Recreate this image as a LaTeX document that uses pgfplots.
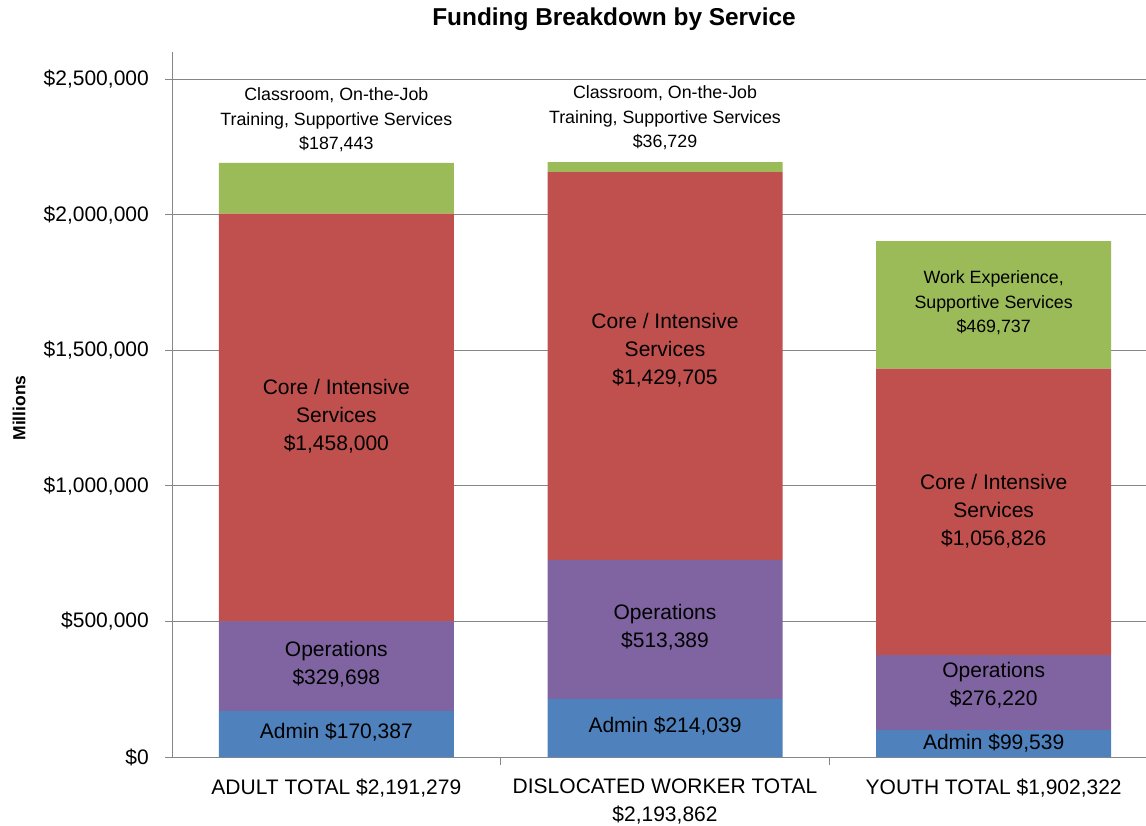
\documentclass[border=0pt]{standalone}
\usepackage{fontspec}
\setmainfont{Liberation Sans}
\usepackage{pgfplots}
\pgfplotsset{compat=1.18}
\definecolor{cAdmin}{HTML}{4F81BD}
\definecolor{cOps}{HTML}{8064A2}
\definecolor{cCore}{HTML}{C0504D}
\definecolor{cTrain}{HTML}{9BBB59}
\definecolor{axgray}{HTML}{868686}
\newcommand{\bigf}{\fontsize{21bp}{28bp}\selectfont}
\newcommand{\smlf}{\fontsize{17.8bp}{24.5bp}\selectfont}
\begin{document}
\begin{tikzpicture}
\path[use as bounding box] (0,0) rectangle (1146bp,-826bp);
\begin{scope}
\clip (0,0) rectangle (1146bp,-826bp);
\begin{axis}[
  at={(172bp,-757bp)}, anchor=south west,
  scale only axis, width=986bp, height=705bp,
  ybar stacked, bar width=235bp,
  xmin=-0.5, xmax=2.5, ymin=0, ymax=2600000,
  axis lines*=left,
  axis line style={axgray, line width=1bp},
  ymajorgrids, grid style={axgray, line width=1bp},
  ytick={0,500000,1000000,1500000,2000000,2500000},
  yticklabels={{\$0},{\$500,000},{\$1,000,000},{\$1,500,000},{\$2,000,000},{\$2,500,000}},
  xtick={0,1,2},
  xticklabels={{ADULT TOTAL \$2,191,279},{DISLOCATED WORKER TOTAL\\\$2,193,862},{YOUTH TOTAL \$1,902,322}},
  minor xtick={0.5,1.5,2.5},
  tick align=outside,
  major tick length=7bp, minor tick length=8bp,
  major x tick style={draw=none},
  every tick/.style={axgray, line width=1bp},
  tick label style={font=\bigf},
  yticklabel style={inner sep=0pt, xshift=-16bp},
  xticklabel style={align=center, inner sep=0pt, yshift=-15bp},
  scaled y ticks=false,
]
\addplot[fill=cAdmin, draw=none] coordinates {(0,170387) (1,214039) (2,99539)};
\addplot[fill=cOps, draw=none] coordinates {(0,329698) (1,513389) (2,276220)};
\addplot[fill=cCore, draw=none] coordinates {(0,1503751) (1,1429705) (2,1056826)};
\addplot[fill=cTrain, draw=none] coordinates {(0,187443) (1,36729) (2,469737)};
% label anchors
\coordinate (a4) at (axis cs:0,2350000);
\coordinate (a3) at (axis cs:0,1258000);
\coordinate (a2) at (axis cs:0,343000);
\coordinate (a1) at (axis cs:0,92000);
\coordinate (d4) at (axis cs:1,2357000);
\coordinate (d3) at (axis cs:1,1501000);
\coordinate (d2) at (axis cs:1,479500);
\coordinate (d1) at (axis cs:1,114500);
\coordinate (y4) at (axis cs:2,1674000);
\coordinate (y3) at (axis cs:2,907000);
\coordinate (y2) at (axis cs:2,265500);
\coordinate (y1) at (axis cs:2,51500);
\end{axis}
\end{scope}
\node[align=center, font=\smlf, inner sep=0pt] at (a4) {Classroom, On-the-Job\\Training, Supportive Services\\\$187,443};
\node[align=center, font=\bigf, inner sep=0pt] at (a3) {Core / Intensive\\Services\\\$1,458,000};
\node[align=center, font=\bigf, inner sep=0pt] at (a2) {Operations\\\$329,698};
\node[align=center, font=\bigf, inner sep=0pt] at (a1) {Admin \$170,387};
\node[align=center, font=\smlf, inner sep=0pt] at (d4) {Classroom, On-the-Job\\Training, Supportive Services\\\$36,729};
\node[align=center, font=\bigf, inner sep=0pt] at (d3) {Core / Intensive\\Services\\\$1,429,705};
\node[align=center, font=\bigf, inner sep=0pt] at (d2) {Operations\\\$513,389};
\node[align=center, font=\bigf, inner sep=0pt] at (d1) {Admin \$214,039};
\node[align=center, font=\smlf, inner sep=0pt] at (y4) {Work Experience,\\Supportive Services\\\$469,737};
\node[align=center, font=\bigf, inner sep=0pt] at (y3) {Core / Intensive\\Services\\\$1,056,826};
\node[align=center, font=\bigf, inner sep=0pt] at (y2) {Operations\\\$276,220};
\node[align=center, font=\bigf, inner sep=0pt] at (y1) {Admin \$99,539};
\node[font=\fontsize{24.4bp}{28bp}\selectfont\bfseries] at (614bp,-19bp) {Funding Breakdown by Service};
\node[rotate=90, font=\fontsize{17.5bp}{20bp}\selectfont\bfseries] at (19bp,-408bp) {Millions};
\end{tikzpicture}
\end{document}
